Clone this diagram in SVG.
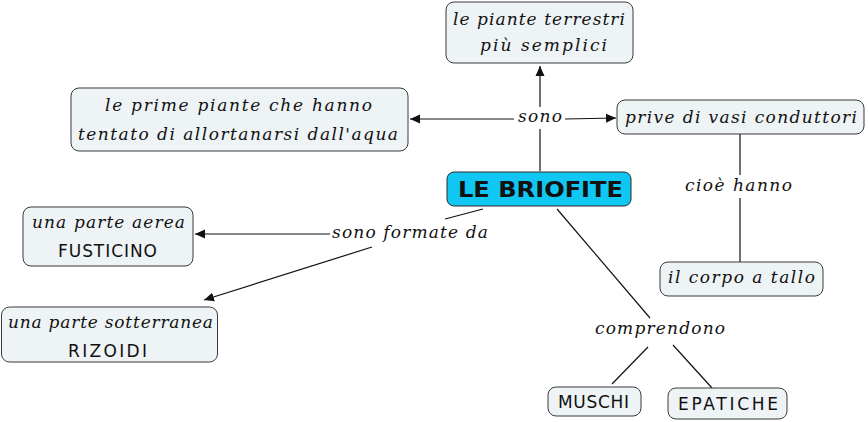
<svg xmlns="http://www.w3.org/2000/svg" width="868" height="422" viewBox="0 0 868 422">
  <style>
    .box { fill: #eef3f5; stroke: #3a3a3a; stroke-width: 1; }
    .main { fill: #10c6f2; stroke: #2a2a2a; stroke-width: 1; }
    .t { font-family: "DejaVu Serif", "Liberation Serif", serif; font-style: italic; font-size: 17px; fill: #111; }
    .c { font-family: "DejaVu Sans", "Liberation Sans", sans-serif; font-size: 17px; fill: #111; }
    .m { font-family: "DejaVu Sans", "Liberation Sans", sans-serif; font-weight: bold; font-size: 21px; fill: #111; }
    .ln { stroke: #111; stroke-width: 1.2; fill: none; }
    .lbg { fill: #ffffff; }
  </style>
  <defs>
    <marker id="arr" viewBox="0 0 10 10" refX="10" refY="5" markerWidth="10" markerHeight="10" markerUnits="userSpaceOnUse" orient="auto">
      <path d="M0,0.5 L10,5 L0,9.5 Z" fill="#111"/>
    </marker>
  </defs>
  <rect width="868" height="422" fill="#ffffff"/>

  <g id="connectors">
    <path class="ln" d="M540,171 L540,66" marker-end="url(#arr)"/>
    <path class="ln" d="M514,119 L410,119" marker-end="url(#arr)"/>
    <path class="ln" d="M565,119 L616,118" marker-end="url(#arr)"/>
    <path class="ln" d="M483,209 L445,219"/>
    <path class="ln" d="M330,234 L195,234" marker-end="url(#arr)"/>
    <path class="ln" d="M372,247 L204,300" marker-end="url(#arr)"/>
    <path class="ln" d="M740,134 L740,175"/>
    <path class="ln" d="M740,198 L740,262"/>
    <path class="ln" d="M557,209 L650,318"/>
    <path class="ln" d="M648,347 L612,384"/>
    <path class="ln" d="M673,345 L712,388"/>
    <rect class="lbg" x="516" y="107" width="48" height="22"/>
    <text class="t" x="518" y="122" textLength="44" lengthAdjust="spacing">sono</text>
    <text class="t" x="332" y="238" textLength="156" lengthAdjust="spacing">sono formate da</text>
    <text class="t" x="685" y="191" textLength="107" lengthAdjust="spacing">cioè hanno</text>
    <text class="t" x="595" y="334" textLength="130" lengthAdjust="spacing">comprendono</text>
  </g>

  <g id="terrestri">
    <rect class="box" x="446" y="2" width="187" height="61" rx="8"/>
    <text class="t" x="453" y="25" textLength="172" lengthAdjust="spacing">le piante terrestri</text>
    <text class="t" x="480" y="51" textLength="127" lengthAdjust="spacing">più semplici</text>
  </g>

  <g id="prime-piante">
    <rect class="box" x="71" y="88" width="337" height="63" rx="8"/>
    <text class="t" x="105" y="111" textLength="267" lengthAdjust="spacing">le prime piante che hanno</text>
    <text class="t" x="78" y="140" textLength="320" lengthAdjust="spacing">tentato di allortanarsi dall'aqua</text>
  </g>

  <g id="prive">
    <rect class="box" x="617" y="100" width="247" height="34" rx="8"/>
    <text class="t" x="625" y="123" textLength="232" lengthAdjust="spacing">prive di vasi conduttori</text>
  </g>

  <g id="briofite">
    <rect class="main" x="447" y="172" width="184" height="34" rx="7"/>
    <text class="m" x="458" y="197" textLength="165" lengthAdjust="spacingAndGlyphs">LE BRIOFITE</text>
  </g>

  <g id="aerea">
    <rect class="box" x="23" y="207" width="170" height="59" rx="8"/>
    <text class="t" x="32" y="228" textLength="153" lengthAdjust="spacing">una parte aerea</text>
    <text class="c" x="58" y="257" textLength="99" lengthAdjust="spacing">FUSTICINO</text>
  </g>

  <g id="sotterranea">
    <rect class="box" x="1.5" y="307" width="216" height="55" rx="8"/>
    <text class="t" x="8" y="328" textLength="205" lengthAdjust="spacing">una parte sotterranea</text>
    <text class="c" x="68" y="357" textLength="79" lengthAdjust="spacing">RIZOIDI</text>
  </g>

  <g id="tallo">
    <rect class="box" x="660" y="262" width="163" height="34" rx="8"/>
    <text class="t" x="668" y="283" textLength="147" lengthAdjust="spacing">il corpo a tallo</text>
  </g>

  <g id="muschi">
    <rect class="box" x="548" y="387" width="93" height="29" rx="8"/>
    <text class="c" x="558" y="408" textLength="71" lengthAdjust="spacing">MUSCHI</text>
  </g>

  <g id="epatiche">
    <rect class="box" x="668" y="388" width="119" height="31" rx="8"/>
    <text class="c" x="678" y="410" textLength="100" lengthAdjust="spacing">EPATICHE</text>
  </g>
</svg>
